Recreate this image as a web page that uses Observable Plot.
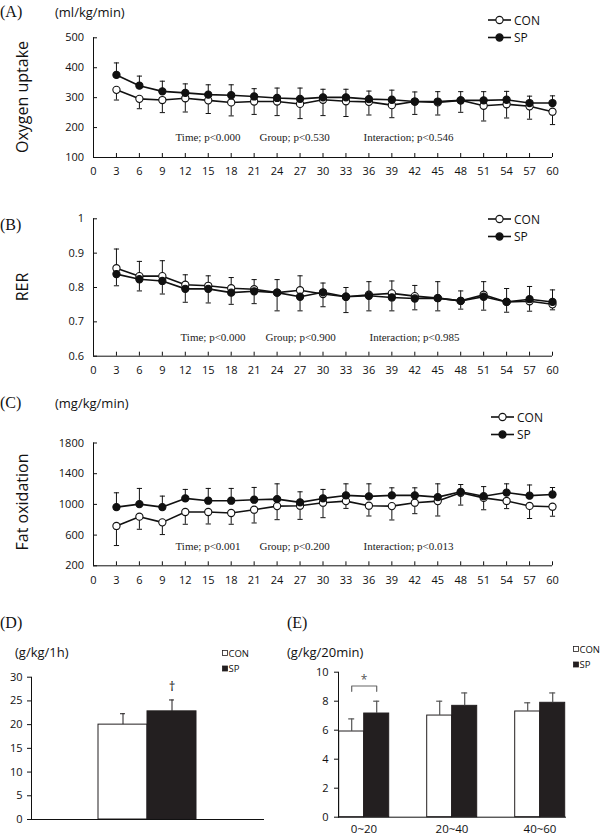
<!DOCTYPE html>
<html><head><meta charset="utf-8">
<script src="https://cdn.jsdelivr.net/npm/d3@7"></script>
<script src="https://cdn.jsdelivr.net/npm/@observablehq/plot@0.6"></script>
<style>
body{margin:0;background:#fff;}
#root{position:relative;width:600px;height:838px;overflow:hidden;font-family:"Open Sans",sans-serif;color:#111;background:#fff;}
.abs{position:absolute;white-space:nowrap;line-height:1;}
.serif{font-family:"Liberation Serif","DejaVu Serif",serif;}
.ylab{position:absolute;white-space:nowrap;line-height:1;transform:translate(-50%,-50%) rotate(-90deg);font-size:16px;}
</style></head><body><div id="root"></div>
<script>
// ---------- data ----------
const times = [3,6,9,12,15,18,21,24,27,30,33,36,39,42,45,48,51,54,57,60];
const xTicks = [0,3,6,9,12,15,18,21,24,27,30,33,36,39,42,45,48,51,54,57,60];
const groups = ["CON","SP"];

// (A) Oxygen uptake (ml/kg/min)
const vo2Con   = [326,296,292,298,291,284,287,287,279,293,288,286,275,287,284,291,273,278,271,253];
const vo2ConSd = [34,33,42,46,44,45,43,47,49,53,51,44,42,43,42,40,51,46,43,43];
const vo2Sp    = [376,340,321,316,310,308,304,299,296,301,301,295,293,287,287,291,291,293,282,282];
const vo2SpSd  = [40,32,34,30,33,35,26,33,36,27,27,27,32,32,33,29,29,28,23,24];
const vo2Ticks = [100,200,300,400,500];
const vo2Stats = ["Time; p<0.000","Group; p<0.530","Interaction; p<0.546"];

// (B) RER
const rerCon   = [0.856,0.833,0.833,0.808,0.805,0.798,0.795,0.785,0.792,0.781,0.773,0.779,0.783,0.775,0.769,0.761,0.779,0.758,0.760,0.751];
const rerConSd = [0.056,0.043,0.045,0.029,0.029,0.031,0.028,0.038,0.042,0.032,0.027,0.038,0.036,0.031,0.048,0.029,0.038,0.039,0.043,0.042];
const rerSp    = [0.839,0.824,0.819,0.796,0.796,0.785,0.789,0.785,0.773,0.786,0.773,0.776,0.771,0.768,0.769,0.761,0.773,0.758,0.766,0.758];
const rerSpSd  = [0.034,0.034,0.038,0.039,0.041,0.034,0.036,0.053,0.041,0.042,0.046,0.044,0.039,0.033,0.037,0.024,0.039,0.030,0.035,0.023];
const rerTicks = [0.6,0.7,0.8,0.9,1];
const rerStats = ["Time; p<0.000","Group; p<0.900","Interaction; p<0.985"];

// (C) Fat oxidation (mg/kg/min)
const fatCon   = [719,840,766,901,901,888,931,978,983,1022,1043,983,978,1022,1043,1151,1085,1045,980,970];
const fatConSd = [255,164,159,160,156,147,173,177,178,195,95,134,181,143,194,160,155,100,164,124];
const fatSp    = [965,1004,965,1078,1048,1048,1061,1069,1026,1078,1117,1104,1117,1117,1095,1164,1106,1154,1114,1129];
const fatSpSd  = [186,204,143,117,160,160,160,199,138,117,151,164,99,99,173,95,126,114,139,91];
const fatTicks = [200,600,1000,1400,1800];
const fatStats = ["Time; p<0.001","Group; p<0.200","Interaction; p<0.013"];

// (D) total fat oxidation (g/kg/1h)
const totalMean = [20.0, 22.8];
const totalSd   = [2.3, 2.4];
const totalTicks = [0,5,10,15,20,25,30];

// (E) fat oxidation per 20 min (g/kg/20min)
const periods = ["0~20","20~40","40~60"];
const perCon   = [5.91, 7.01, 7.29];
const perConSd = [0.87, 0.99, 0.60];
const perSp    = [7.15, 7.68, 7.89];
const perSpSd  = [0.85, 0.89, 0.68];
const perTicks = [0,2,4,6,8,10];

// ---------- helpers ----------
const root = document.getElementById("root");
function place(el, left, top){ const d=document.createElement("div"); d.style.position="absolute"; d.style.left=left+"px"; d.style.top=top+"px"; d.appendChild(el); root.appendChild(d); }
function label(text, left, cy, size, cls){ const d=document.createElement("div"); d.className="abs "+(cls||""); d.textContent=text; d.style.left=left+"px"; d.style.top=(cy-size*0.5)+"px"; d.style.fontSize=size+"px"; root.appendChild(d); return d; }
function ylabel(text, cx, cy){ const d=document.createElement("div"); d.className="ylab"; d.textContent=text; d.style.left=cx+"px"; d.style.top=cy+"px"; root.appendChild(d); }
const NS="http://www.w3.org/2000/svg";
function lineLegend(left, top){
  const s=document.createElementNS(NS,"svg"); s.setAttribute("width","70"); s.setAttribute("height","30");
  s.style.position="absolute"; s.style.left=left+"px"; s.style.top=top+"px"; s.style.overflow="visible";
  groups.forEach((g,i)=>{
    const y = 6 + i*17.5;
    const l=document.createElementNS(NS,"line"); l.setAttribute("x1",1); l.setAttribute("x2",24); l.setAttribute("y1",y); l.setAttribute("y2",y); l.setAttribute("stroke","#111"); l.setAttribute("stroke-width","1.6"); s.appendChild(l);
    const c=document.createElementNS(NS,"circle"); c.setAttribute("cx",12.5); c.setAttribute("cy",y); c.setAttribute("r",3.6); c.setAttribute("fill", i? "#111":"#fff"); c.setAttribute("stroke","#111"); c.setAttribute("stroke-width","1.1"); s.appendChild(c);
    const t=document.createElementNS(NS,"text"); t.setAttribute("x",27); t.setAttribute("y",y); t.setAttribute("dominant-baseline","central"); t.setAttribute("font-family","Open Sans"); t.setAttribute("font-size","12"); t.setAttribute("fill","#111"); t.textContent=g; s.appendChild(t);
  });
  root.appendChild(s);
}
function boxLegend(left, top){
  const s=document.createElementNS(NS,"svg"); s.setAttribute("width","45"); s.setAttribute("height","24");
  s.style.position="absolute"; s.style.left=left+"px"; s.style.top=top+"px"; s.style.overflow="visible";
  groups.forEach((g,i)=>{
    const y = 4 + i*15.5;
    const r=document.createElementNS(NS,"rect"); r.setAttribute("x",0.5); r.setAttribute("y",y-2.5); r.setAttribute("width",5); r.setAttribute("height",5); r.setAttribute("fill", i?"#231f20":"#fff"); r.setAttribute("stroke","#231f20"); r.setAttribute("stroke-width","0.8"); s.appendChild(r);
    const t=document.createElementNS(NS,"text"); t.setAttribute("x",6.5); t.setAttribute("y",y); t.setAttribute("dominant-baseline","central"); t.setAttribute("font-family","Open Sans"); t.setAttribute("font-size","9.5"); t.setAttribute("fill","#111"); t.textContent=g; s.appendChild(t);
  });
  root.appendChild(s);
}
const capSymbol = {draw(ctx, size){ const r=Math.sqrt(size/Math.PI); ctx.moveTo(-r,0); ctx.lineTo(r,0); }};

function linePanel({con, conSd, sp, spSd, conDir, spDir, yDomain, yTicks, stats, statDx, statDy, height, marginTop, marginBottom}){
  const rows=[];
  groups.forEach(g=>times.forEach((t,i)=>{
    const v = g==="CON"? con[i] : sp[i];
    const sd = g==="CON"? conSd[i] : spSd[i];
    const dir = g==="CON"? conDir : spDir;
    rows.push({t, group:g, v, end: v + dir*sd});
  }));
  return Plot.plot({
    width:600, height, marginLeft:93, marginRight:48, marginTop, marginBottom,
    style:{fontFamily:"Open Sans", fontSize:"11px", color:"#111", background:"transparent", overflow:"visible"},
    x:{domain:[0,60]},
    y:{domain:yDomain},
    color:{domain:groups, range:["#fff","#111"]},
    marks:[
      Plot.axisX({ticks:xTicks, tickSize:-4, tickPadding:14, tickFormat:d=>String(d), label:null}),
      Plot.axisY({ticks:yTicks, tickSize:-4, tickPadding:13.5, tickFormat:d=>String(d), label:null}),
      Plot.ruleX([0],{stroke:"#111", strokeWidth:1}),
      Plot.ruleY([yDomain[0]],{stroke:"#111", strokeWidth:1}),
      Plot.ruleX(rows,{x:"t", y1:"v", y2:"end", stroke:"#111", strokeWidth:1}),
      Plot.dot(rows,{x:"t", y:"end", symbol:capSymbol, r:2.6, fill:"none", stroke:"#111", strokeWidth:1}),
      Plot.lineY(rows,{x:"t", y:"v", z:"group", stroke:"#111", strokeWidth:1.6}),
      Plot.dot(rows,{x:"t", y:"v", fill:"group", stroke:"#111", strokeWidth:1.1, r:3.6}),
      ...stats.map((s,i)=>Plot.text([s],{text:d=>d, frameAnchor:"bottom-left", textAnchor:"start", dx:statDx[i], dy:statDy, fontFamily:"Liberation Serif", fontSize:11, fill:"#222"}))
    ]
  });
}

// ---------- panel A ----------
place(linePanel({con:vo2Con, conSd:vo2ConSd, sp:vo2Sp, spSd:vo2SpSd, conDir:-1, spDir:1,
  yDomain:[100,500], yTicks:vo2Ticks, stats:vo2Stats, statDx:[82,166,270], statDy:-17,
  height:185, marginTop:37.3, marginBottom:28}), 0, 0);
label("(A)", 0, 12, 16, "serif");
label("(ml/kg/min)", 55, 12, 13);
ylabel("Oxygen uptake", 22, 97);
lineLegend(487, 14);

// ---------- panel B ----------
place(linePanel({con:rerCon, conSd:rerConSd, sp:rerSp, spSd:rerSpSd, conDir:1, spDir:-1,
  yDomain:[0.6,1], yTicks:rerTicks, stats:rerStats, statDx:[87,172,276], statDy:-15.7,
  height:180, marginTop:18.3, marginBottom:24.3}), 0, 200);
label("(B)", 0, 225, 16, "serif");
ylabel("RER", 22, 287);
lineLegend(487, 213);

// ---------- panel C ----------
place(linePanel({con:fatCon, conSd:fatConSd, sp:fatSp, spSd:fatSpSd, conDir:-1, spDir:1,
  yDomain:[200,1800], yTicks:fatTicks, stats:fatStats, statDx:[82,166,270], statDy:-16.3,
  height:190, marginTop:42.5, marginBottom:24.7}), 0, 400);
label("(C)", 0, 403, 16, "serif");
label("(mg/kg/min)", 55, 403, 13);
ylabel("Fat oxidation", 22, 502);
lineLegend(490, 411);

// ---------- panel D ----------
const dRows = groups.map((g,i)=>({group:g, v:totalMean[i], top:totalMean[i]+totalSd[i]}));
place(Plot.plot({
  width:280, height:178, marginLeft:31, marginRight:17, marginTop:16.7, marginBottom:19,
  style:{fontFamily:"Open Sans", fontSize:"11px", color:"#111", background:"transparent", overflow:"visible"},
  x:{domain:groups, paddingInner:0, paddingOuter:1.33, axis:null},
  y:{domain:[0,30]},
  color:{domain:groups, range:["#fff","#231f20"]},
  marks:[
    Plot.axisY({ticks:totalTicks, tickSize:4, tickPadding:5, label:null}),
    Plot.barY(dRows,{x:"group", y:"v", fill:"group", stroke:"#231f20", strokeWidth:1}),
    Plot.ruleX(dRows,{x:"group", y1:"v", y2:"top", stroke:"#231f20", strokeWidth:1}),
    Plot.tickY(dRows,{x:"group", y:"top", insetLeft:22, insetRight:22, stroke:"#231f20", strokeWidth:1}),
    Plot.text(dRows.filter(d=>d.group==="SP"),{x:"group", y:"top", text:()=>"†", dy:-13, fontSize:13, fill:"#111"}),
    Plot.frame({anchor:"left", stroke:"#111"}),
    Plot.frame({anchor:"bottom", stroke:"#111"})
  ]
}), 0, 660);
label("(D)", 0, 623, 16, "serif");
label("(g/kg/1h)", 15, 652, 13);
boxLegend(222, 649);

// ---------- panel E ----------
const eRows = [];
periods.forEach((p,j)=>{
  eRows.push({period:p, group:"CON", v:perCon[j], top:perCon[j]+perConSd[j]});
  eRows.push({period:p, group:"SP", v:perSp[j], top:perSp[j]+perSpSd[j]});
});
const sigTop = Math.max(eRows[0].top, eRows[1].top) + 1.05;
const bracket = [
  {period:periods[0], group:"CON", y:sigTop-0.37},
  {period:periods[0], group:"CON", y:sigTop},
  {period:periods[0], group:"SP", y:sigTop},
  {period:periods[0], group:"SP", y:sigTop-0.37}
];
place(Plot.plot({
  width:320, height:178, marginLeft:37.3, marginRight:15, marginTop:11.7, marginBottom:21.3,
  style:{fontFamily:"Open Sans", fontSize:"11px", color:"#111", background:"transparent", overflow:"visible"},
  fx:{domain:periods, paddingInner:0.425, paddingOuter:0.22, label:null},
  x:{domain:groups, padding:0, axis:null},
  y:{domain:[0,10]},
  color:{domain:groups, range:["#fff","#231f20"]},
  marks:[
    Plot.axisY({ticks:perTicks, tickSize:4, tickPadding:6, label:null}),
    Plot.axisFx({anchor:"bottom", tickSize:0, tickPadding:8, label:null, fontSize:11.5}),
    Plot.barY(eRows,{fx:"period", x:"group", y:"v", fill:"group", stroke:"#231f20", strokeWidth:1}),
    Plot.ruleX(eRows,{fx:"period", x:"group", y1:"v", y2:"top", stroke:"#555", strokeWidth:1.2}),
    Plot.tickY(eRows,{fx:"period", x:"group", y:"top", insetLeft:9.5, insetRight:9.5, stroke:"#555", strokeWidth:1.2}),
    Plot.line(bracket,{fx:"period", x:"group", y:"y", stroke:"#666", strokeWidth:1.2}),
    Plot.text([periods[0]],{fx:d=>d, y:sigTop, text:()=>"*", dy:-6, fontSize:12, fill:"#555"}),
    Plot.frame({anchor:"left", stroke:"#111", facet:"super"}),
    Plot.frame({anchor:"bottom", stroke:"#111", facet:"super"})
  ]
}), 280, 660);
label("(E)", 287, 623, 16, "serif");
label("(g/kg/20min)", 287, 652, 13);
boxLegend(573, 645);
</script></body></html>
